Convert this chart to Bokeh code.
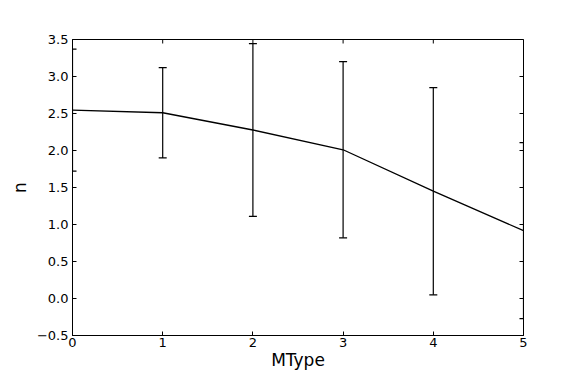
from bokeh.plotting import figure
from bokeh.models import Range1d, FixedTicker
from bokeh.embed import file_html
from bokeh.resources import INLINE
import math

# Data
mtype = [0, 1, 2, 3, 4, 5]
n_mean = [2.545, 2.51, 2.277, 2.01, 1.45, 0.917]
n_err = [0.825, 0.61, 1.166, 1.19, 1.40, 1.19]

x_ticks = [0, 1, 2, 3, 4, 5]
y_ticks = [-0.5, 0.0, 0.5, 1.0, 1.5, 2.0, 2.5, 3.0, 3.5]
y_tick_labels = [("%.1f" % v).replace("-", "\u2212") for v in y_ticks]
x_label = "MType"
y_label = "n"

X_MIN, X_MAX = 0, 5
Y_MIN, Y_MAX = -0.5, 3.5

FONT = "DejaVu Sans"

p = figure(width=565, height=372, output_backend="svg", toolbar_location=None,
           x_range=Range1d(X_MIN, X_MAX), y_range=Range1d(Y_MIN, Y_MAX),
           min_border_left=72, min_border_right=42, min_border_top=39,
           min_border_bottom=33)
p.background_fill_color = "white"
p.border_fill_color = "white"
p.outline_line_color = "black"
p.outline_line_width = 1
p.xgrid.visible = False
p.ygrid.visible = False

upper = [m + e for m, e in zip(n_mean, n_err)]
lower = [m - e for m, e in zip(n_mean, n_err)]

# error bars
p.segment(x0=mtype, y0=lower, x1=mtype, y1=upper, line_color="black", line_width=1.2)
p.scatter(x=mtype, y=upper, marker="dash", size=8, line_color="black", line_width=1.2)
p.scatter(x=mtype, y=lower, marker="dash", size=8, line_color="black", line_width=1.2)
# mean line
p.line(x=mtype, y=n_mean, line_color="black", line_width=1.3)

# mirrored inward ticks on the top and right edges (half of each dash is clipped)
p.scatter(x=x_ticks, y=[Y_MAX] * len(x_ticks), marker="dash", size=8,
          angle=math.pi / 2, line_color="black", line_width=1)
p.scatter(x=[X_MAX] * len(y_ticks), y=y_ticks, marker="dash", size=8,
          line_color="black", line_width=1)

def style_axis(ax):
    ax.major_tick_in = 4
    ax.major_tick_out = 0
    ax.minor_tick_in = 0
    ax.minor_tick_out = 0
    ax.axis_line_color = "black"
    ax.major_tick_line_color = "black"
    ax.major_label_text_font = FONT
    ax.major_label_text_color = "black"
    ax.axis_label_text_font = FONT
    ax.axis_label_text_font_style = "normal"
    ax.axis_label_text_color = "black"
    ax.major_label_text_font_size = "13px"
    ax.axis_label_text_font_size = "17px"

xa = p.xaxis[0]
xa.ticker = FixedTicker(ticks=x_ticks)
xa.axis_label = x_label
style_axis(xa)
xa.major_label_standoff = 2
xa.axis_label_standoff = 0

ya = p.yaxis[0]
ya.ticker = FixedTicker(ticks=y_ticks)
ya.major_label_overrides = {v: s for v, s in zip(y_ticks, y_tick_labels)}
ya.axis_label = y_label
style_axis(ya)
ya.major_label_standoff = 4
ya.axis_label_standoff = 4

open("out.html", "w").write(file_html(p, INLINE))
